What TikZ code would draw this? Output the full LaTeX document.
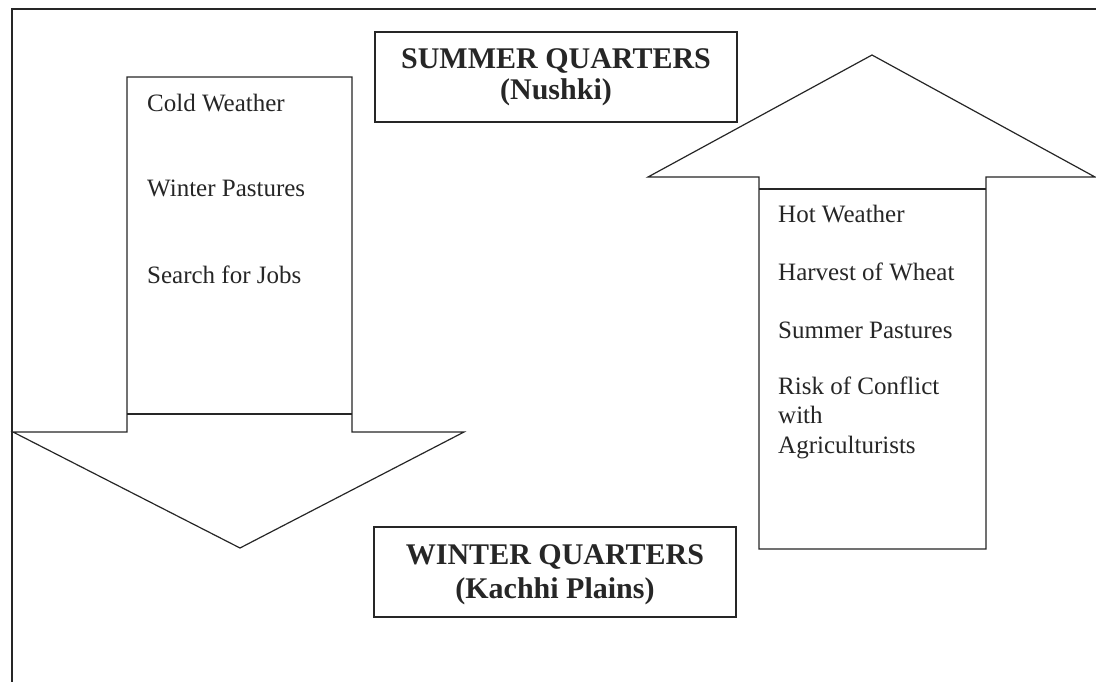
\documentclass[tikz,border=0pt]{standalone}
\usepackage{fontspec}
\setmainfont{Liberation Serif}
\begin{document}
\begin{tikzpicture}[x=1pt,y=-1pt,
  shapeline/.style={draw=black!85,line width=1.2pt,line join=miter},
  item/.style={anchor=base west,inner sep=0pt,font=\fontsize{25}{29.5}\selectfont,text=black!85},
  placebox/.style={draw=black!85,line width=1.2pt,minimum width=362pt,minimum height=90pt,inner sep=0pt,align=center,text=black!85}]
\useasboundingbox (0,0) rectangle (1096,681);
\begin{scope}
\clip (0,0) rectangle (1096,681);
% outer frame
\draw[shapeline] (12,690) -- (12,9) -- (1110,9);
% down arrow (to winter quarters)
\draw[shapeline,fill=white] (127,77) -- (352,77) -- (352,432) -- (464,432) -- (240,548) -- (13,432) -- (127,432) -- cycle;
\draw[shapeline] (127,414) -- (352,414);
% up arrow (to summer quarters)
\draw[shapeline,fill=white] (759,549) -- (986,549) -- (986,177) -- (1095,177) -- (872,55) -- (648,177) -- (759,177) -- cycle;
\draw[shapeline] (759,189) -- (986,189);
\end{scope}
% place boxes
\node[placebox,font=\fontsize{30}{31}\selectfont\bfseries] (summer) at (556,77) {SUMMER QUARTERS\\(Nushki)};
\node[placebox] (winter) at (555,572) {};
\node[anchor=center,inner sep=0pt,align=center,text=black!85,font=\fontsize{30}{34}\selectfont\bfseries,yshift=-3pt] (wintertext) at (winter.center) {WINTER QUARTERS\\(Kachhi Plains)};
% left arrow texts
\node[item] (cold) at (147,111) {Cold Weather};
\node[item] (winterpast) at (147,196) {Winter Pastures};
\node[item] (jobs) at (147,283) {Search for Jobs};
% right arrow texts
\node[item] (hot) at (778,222) {Hot Weather};
\node[item] (harvest) at (778,280) {Harvest of Wheat};
\node[item] (summerpast) at (778,338) {Summer Pastures};
\node[item] (risk) at (778,394) {Risk of Conflict};
\node[item] (with) at (778,423) {with};
\node[item] (agri) at (778,453) {Agriculturists};
\end{tikzpicture}
\end{document}
